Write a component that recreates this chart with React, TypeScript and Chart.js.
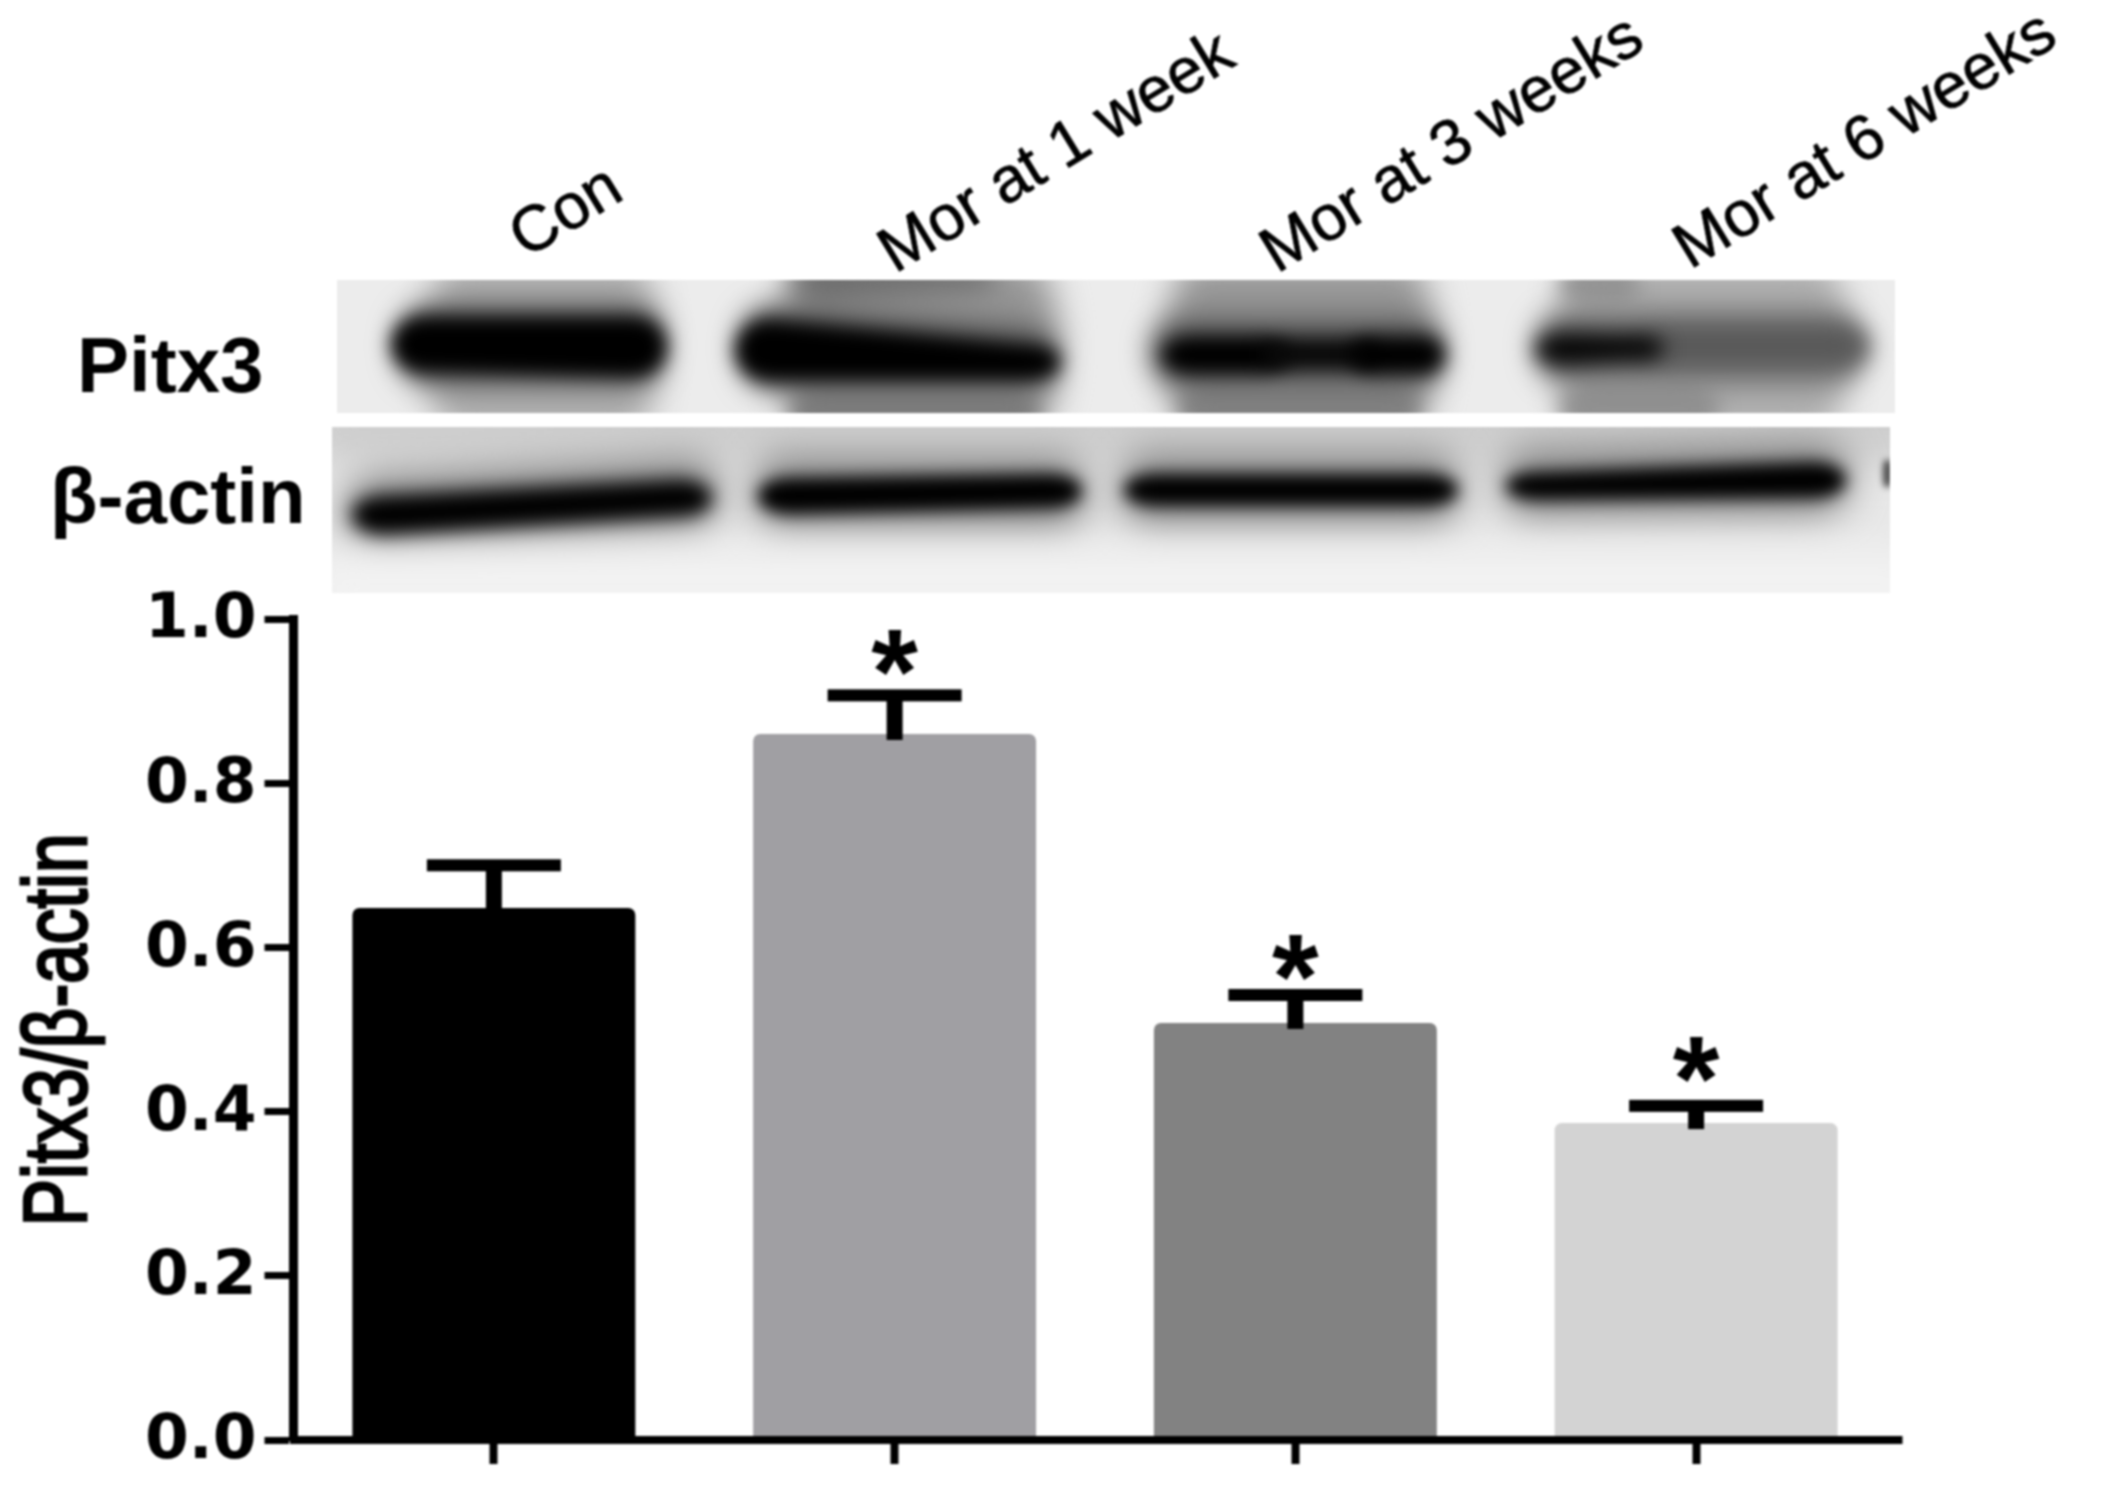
import React, { useEffect, useRef } from "react";
import { Chart, registerables } from "chart.js";

Chart.register(...registerables);

const categories = ["Con", "Mor at 1 week", "Mor at 3 weeks", "Mor at 6 weeks"];
const means = [0.648, 0.86, 0.508, 0.386];
const errorTops = [0.70, 0.907, 0.542, 0.407];
const starCentres = [null, 0.9586, 0.5877, 0.4629];
const barColours = ["#000000", "#a09fa3", "#828282", "#d3d3d3"];
const yTickValues = [0, 0.2, 0.4, 0.6, 0.8, 1.0];
const yTitle = "Pitx3/β-actin";
const blotNames = ["Pitx3", "β-actin"];

// Rotated column heading anchors (baseline start, px)
const headingAnchors = [[526, 259], [895, 274], [1277, 274], [1690, 270]];

// Blot drawing: [x0, x1, yLeftTop, yLeftBottom, yRightTop, yRightBottom, grey, blur]
type Band = number[];
const pitxSmears: Band[] = [
  [425, 660, 262, 432, 262, 432, 170, 16],
  [780, 1060, 262, 432, 262, 432, 150, 16],
  [1165, 1436, 262, 432, 262, 432, 150, 16],
  [1555, 1850, 262, 432, 262, 432, 172, 16],
  [790, 1000, 262, 300, 262, 290, 105, 14],
  [790, 1040, 392, 432, 392, 432, 125, 10],
  [1180, 1420, 385, 432, 385, 432, 130, 10],
  [1560, 1640, 270, 300, 270, 300, 145, 10],
  [1560, 1720, 385, 432, 385, 432, 145, 10],
  [396, 664, 305, 385, 305, 385, 90, 14],
  [738, 1056, 305, 390, 325, 390, 90, 14],
  [1150, 1444, 318, 386, 318, 386, 90, 14],
  [1534, 1866, 312, 382, 312, 382, 110, 14],
];
const pitxBands: Band[] = [
  [392, 666, 317, 372, 317, 377, 0, 9],
  [736, 1060, 320, 380, 344, 380, 0, 9],
  [1162, 1290, 336, 374, 336, 374, 0, 9],
  [1260, 1380, 338, 370, 338, 370, 8, 9],
  [1350, 1444, 336, 374, 336, 374, 0, 9],
  [1630, 1868, 328, 364, 328, 364, 88, 11],
  [1536, 1665, 332, 366, 334, 362, 8, 10],
];
const actinSmears: Band[] = [
  [300, 1950, 395, 462, 395, 462, 205, 18],
  [345, 720, 476, 548, 458, 530, 130, 18],
  [752, 1088, 455, 530, 455, 530, 135, 18],
  [1118, 1462, 452, 526, 452, 526, 135, 18],
  [1500, 1850, 448, 518, 440, 516, 135, 18],
  [300, 1950, 550, 630, 550, 630, 242, 20],
  [1883, 1892, 460, 487, 460, 487, 70, 3],
];
const actinBands: Band[] = [
  [352, 712, 496, 534, 480, 516, 0, 9],
  [758, 1082, 478, 514, 474, 508, 0, 8],
  [1124, 1458, 474, 506, 474, 506, 0, 8],
  [1506, 1846, 472, 500, 462, 498, 0, 8],
];

function drawBand(ctx: CanvasRenderingContext2D, b: Band) {
  const [x0, x1, lt, lb, rt, rb, g, blur] = b;
  const r = Math.min(34, (x1 - x0) / 4);
  ctx.filter = `blur(${blur}px)`;
  ctx.fillStyle = `rgb(${g},${g},${g})`;
  ctx.beginPath();
  ctx.moveTo(x0 + r, lt);
  ctx.lineTo(x1 - r, rt);
  ctx.bezierCurveTo(x1 + r / 3, rt, x1 + r / 3, rb, x1 - r, rb);
  ctx.lineTo(x0 + r, lb);
  ctx.bezierCurveTo(x0 - r / 3, lb, x0 - r / 3, lt, x0 + r, lt);
  ctx.closePath();
  ctx.fill();
  ctx.filter = "none";
}

function drawPanel(ctx: CanvasRenderingContext2D, x: number, y: number, w: number, h: number, base: string, smears: Band[], bands: Band[]) {
  ctx.save();
  ctx.beginPath();
  ctx.rect(x, y, w, h);
  ctx.clip();
  ctx.fillStyle = base;
  ctx.fillRect(x, y, w, h);
  smears.forEach((b) => drawBand(ctx, b));
  bands.forEach((b) => drawBand(ctx, b));
  ctx.restore();
}

const overlay = {
  id: "overlay",
  afterDatasetsDraw(chart: any) {
    const { ctx, scales } = chart;
    const { x, y } = scales;
    ctx.save();
    ctx.fillStyle = "#000";
    means.forEach((m, i) => {
      const cx = x.getPixelForValue(i);
      const capY = y.getPixelForValue(errorTops[i]);
      ctx.fillRect(cx - 8, capY, 16, y.getPixelForValue(m) + 6 - capY);
      ctx.fillRect(cx - 67, capY - 6, 134, 12);
      const c = starCentres[i];
      if (c !== null) {
        ctx.font = "bold 120px 'Liberation Sans'";
        ctx.textAlign = "center";
        ctx.textBaseline = "alphabetic";
        const mt = ctx.measureText("*");
        const base = y.getPixelForValue(c) + (mt.actualBoundingBoxAscent - mt.actualBoundingBoxDescent) / 2;
        ctx.fillText("*", cx, base);
      }
    });
    ctx.restore();
  },
  afterDraw(chart: any) {
    const { ctx, chartArea } = chart;
    ctx.save();
    // x axis runs a little past the last category
    ctx.fillStyle = "#000";
    ctx.fillRect(chartArea.right - 2, chartArea.bottom - 4, 8, 8);

    drawPanel(ctx, 337, 280, 1558, 133, "#ececec", pitxSmears, pitxBands);
    drawPanel(ctx, 332, 427, 1558, 166, "#e8e8e8", actinSmears, actinBands);

    ctx.fillStyle = "#000";
    ctx.textBaseline = "alphabetic";
    ctx.textAlign = "left";
    ctx.font = "bold 78px 'Liberation Sans'";
    ctx.fillText(blotNames[0], 77, 392);
    ctx.fillText(blotNames[1], 50, 523);

    ctx.font = "64px 'Liberation Sans'";
    ctx.strokeStyle = "#000";
    ctx.lineWidth = 0.8;
    categories.forEach((c, i) => {
      const [ax, ay] = headingAnchors[i];
      ctx.save();
      ctx.translate(ax, ay);
      ctx.rotate((-31.5 * Math.PI) / 180);
      ctx.fillText(c, 0, 0);
      ctx.strokeText(c, 0, 0);
      ctx.restore();
    });

    // Condensed y axis title
    ctx.save();
    ctx.font = "89px 'Liberation Sans'";
    ctx.lineWidth = 3;
    ctx.textAlign = "center";
    const w = ctx.measureText(yTitle).width;
    ctx.translate(86, 1030);
    ctx.rotate(-Math.PI / 2);
    ctx.scale(393 / w, 1);
    ctx.fillText(yTitle, 0, 0);
    ctx.strokeText(yTitle, 0, 0);
    ctx.restore();
    ctx.restore();
  },
};

export default function App() {
  const ref = useRef<HTMLCanvasElement>(null);
  useEffect(() => {
    document.body.style.margin = "0";
    document.body.style.background = "#fff";
    const chart = new Chart(ref.current!, {
      type: "bar",
      data: {
        labels: categories,
        datasets: [
          {
            data: means,
            backgroundColor: barColours,
            barPercentage: 0.706,
            categoryPercentage: 1,
            borderRadius: { topLeft: 7, topRight: 7, bottomLeft: 0, bottomRight: 0 },
            borderSkipped: "bottom",
          },
        ],
      },
      options: {
        animation: false,
        responsive: false,
        devicePixelRatio: 1,
        layout: { padding: { top: 619, right: 209.5, left: 0, bottom: 0 } },
        plugins: { legend: { display: false }, tooltip: { enabled: false }, title: { display: false } },
        scales: {
          x: {
            type: "category",
            afterFit: (s: any) => { s.height = 57; },
            border: { color: "#000", width: 8, z: 1 },
            grid: { drawOnChartArea: false, drawTicks: true, tickLength: 24, tickWidth: 8, tickColor: "#000", z: 1, offset: false },
            ticks: { display: false },
          },
          y: {
            min: 0,
            max: 1,
            afterFit: (s: any) => { s.width = 293.5; },
            afterBuildTicks: (s: any) => { s.ticks = yTickValues.map((value) => ({ value })); },
            border: { color: "#000", width: 9, z: 1 },
            grid: { drawOnChartArea: false, tickLength: 29, tickWidth: 7, tickColor: "#000", z: 1 },
            ticks: {
              padding: 8,
              labelOffset: 2,
              color: "#000",
              font: { family: "'DejaVu Sans'", weight: "bold", size: 63 },
              callback: (v: any) => Number(v).toFixed(1),
            },
          },
        },
      },
      plugins: [overlay],
    } as any);
    return () => chart.destroy();
  }, []);
  return (
    <canvas
      ref={ref}
      width={2106}
      height={1497}
      style={{ display: "block", width: 2106, height: 1497, filter: "blur(1px)" }}
    />
  );
}
